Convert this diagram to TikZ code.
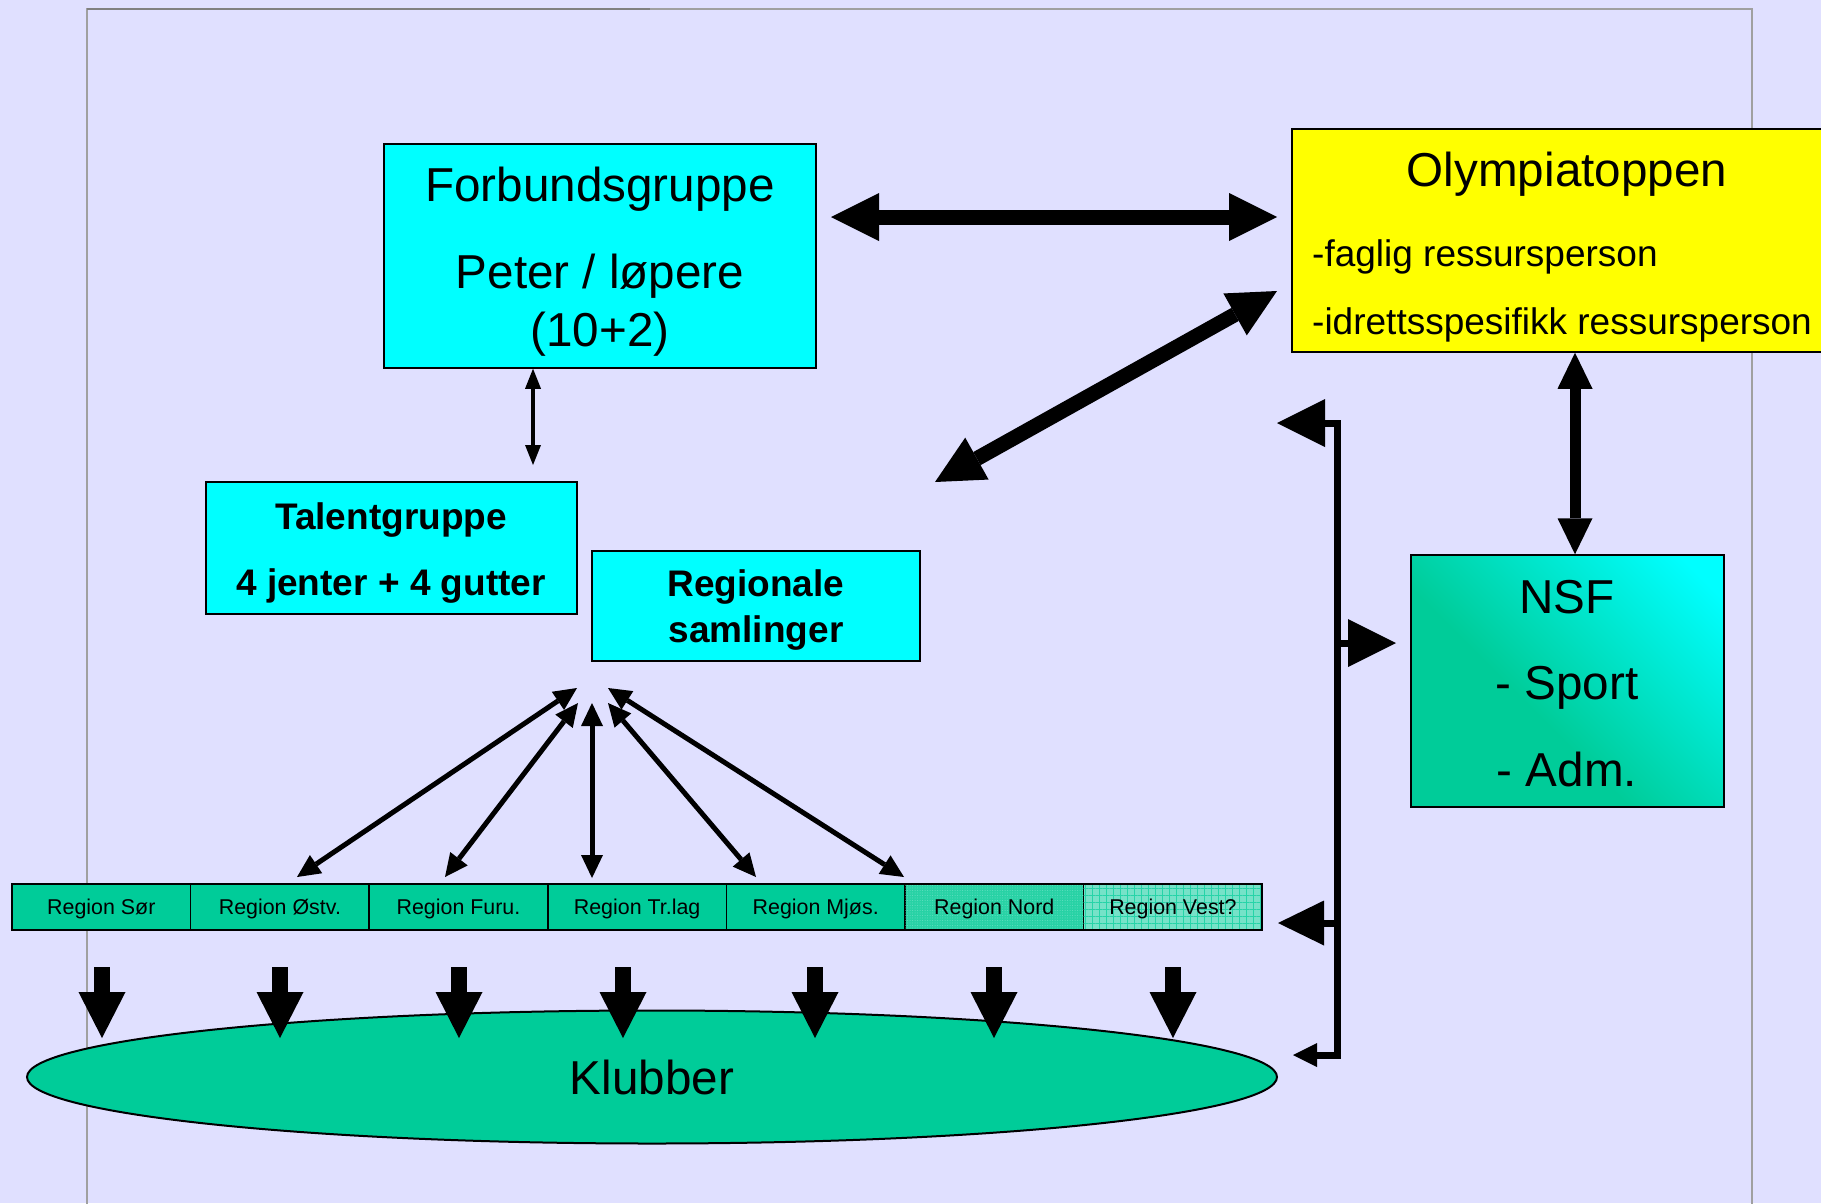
\documentclass[tikz,border=0pt]{standalone}
\usepackage{fontspec}
\setmainfont{Liberation Sans}
\usetikzlibrary{arrows.meta,patterns.meta,shapes.geometric}
\definecolor{bg}{RGB}{224,224,255}
\definecolor{cyanbox}{RGB}{0,255,255}
\definecolor{yell}{RGB}{255,255,0}
\definecolor{sea}{RGB}{0,204,153}
\definecolor{nordfill}{RGB}{40,210,165}
\definecolor{vestfill}{RGB}{118,226,200}
\definecolor{framegray}{RGB}{160,160,160}
\definecolor{framedark}{RGB}{128,128,128}
\pgfdeclareverticalshading{nsfshade}{100bp}{color(0bp)=(sea); color(42bp)=(sea); color(80bp)=(cyanbox); color(100bp)=(cyanbox)}
\begin{document}
\begin{tikzpicture}[x=1pt,y=-1pt,
  box/.style={draw=black, line width=1.5pt, inner sep=0pt, rectangle},
  bigtxt/.style={font=\fontsize{47.6}{57}\selectfont, inner sep=0pt},
  medtxt/.style={font=\fontsize{37}{44}\selectfont, inner sep=0pt},
  boldtxt/.style={font=\fontsize{37}{44}\selectfont\bfseries, inner sep=0pt},
  cell/.style={draw=black, line width=1.5pt, inner sep=0pt, minimum width=178.6pt, minimum height=46pt},
  celltxt/.style={font=\fontsize{21.4}{26}\selectfont, inner sep=0pt},
  bigdbl/.style={line width=15pt, {Triangle[length=48pt,width=48pt,line width=0pt]}-{Triangle[length=48pt,width=48pt,line width=0pt]}},
  vdbl/.style={line width=11pt, {Triangle[length=36pt,width=35pt,line width=0pt]}-{Triangle[length=36pt,width=35pt,line width=0pt]}},
  thindbl/.style={line width=4.5pt, {Triangle[length=20pt,width=16pt,line width=0pt]}-{Triangle[length=20pt,width=16pt,line width=0pt]}},
  hubdbl/.style={line width=5pt, {Triangle[length=23pt,width=22pt,line width=0pt]}-{Triangle[length=23pt,width=22pt,line width=0pt]}},
  downarr/.style={line width=16pt, -{Triangle[length=46pt,width=47pt,line width=0pt]}},
  brk/.style={line width=7pt, line join=miter},
  brkhead/.style={-{Triangle[length=48pt,width=48pt,line width=0pt]}},
]
\useasboundingbox (0,0) rectangle (1821,1203);
\clip (0,0) rectangle (1821,1203);
\fill[bg] (0,0) rectangle (1821,1203);

% frame
\draw[framegray, line width=2pt] (87,1210) -- (87,9) -- (1752,9) -- (1752,1210);
\draw[framedark, line width=2pt] (87,9) -- (650,9);

% boxes
\node[box, fill=cyanbox, minimum width=432pt, minimum height=224pt] (forb) at (600,256) {};
\node[bigtxt] (forbA) at (600,189.5) {Forbundsgruppe};
\node[bigtxt] (forbB) at (600,276.5) {Peter / løpere};
\node[bigtxt] (forbC) at (600,334.5) {(10+2)};

\node[box, fill=yell, minimum width=548pt, minimum height=223pt] (olymp) at (1566,240.5) {};
\node[bigtxt] (olympA) at (1567,174.5) {Olympiatoppen};
\node[medtxt, anchor=west] (olympB) at (1312,256.5) {-faglig ressursperson};
\node[medtxt, anchor=west] (olympC) at (1312,324.5) {-idrettsspesifikk ressursperson};

\node[box, fill=cyanbox, minimum width=371pt, minimum height=132pt] (talent) at (391.5,548) {};
\node[boldtxt] (talentA) at (391,520.5) {Talentgruppe};
\node[boldtxt] (talentB) at (391,586.5) {4 jenter + 4 gutter};

\node[box, fill=cyanbox, minimum width=328pt, minimum height=110pt] (regsam) at (756,606) {};
\node[boldtxt] (regsamA) at (756,587.5) {Regionale};
\node[boldtxt] (regsamB) at (756,633) {samlinger};

\shade[shading=nsfshade, shading angle=-45] (1411,555) rectangle (1724,807);
\node[box, minimum width=313pt, minimum height=252pt] (nsf) at (1567.5,681) {};
\node[bigtxt] (nsfA) at (1567,597) {NSF};
\node[bigtxt] (nsfB) at (1567,688) {- Sport};
\node[bigtxt] (nsfC) at (1567,769) {- Adm.};

% regions
\node[cell, fill=sea] (r1) at (101.3,907) {};
\node[cell, fill=sea] (r2) at (279.9,907) {};
\node[cell, fill=sea] (r3) at (458.5,907) {};
\node[cell, fill=sea] (r4) at (637.1,907) {};
\node[cell, fill=sea] (r5) at (815.7,907) {};
\node[cell, fill=nordfill, postaction={pattern={Dots[distance=2.5pt,radius=0.5pt]}, pattern color=sea!60!white}] (r6) at (994.3,907) {};
\node[cell, fill=vestfill, postaction={pattern={Hatch[angle=0,distance=7pt,line width=0.5pt]}, pattern color=sea!85!white}] (r7) at (1172.9,907) {};
\node[celltxt] (r1t) at ([yshift=-2.3pt]r1.center) {Region Sør};
\node[celltxt] (r2t) at ([yshift=-2.3pt]r2.center) {Region Østv.};
\node[celltxt] (r3t) at ([yshift=-2.3pt]r3.center) {Region Furu.};
\node[celltxt] (r4t) at ([yshift=-2.3pt]r4.center) {Region Tr.lag};
\node[celltxt] (r5t) at ([yshift=-2.3pt]r5.center) {Region Mjøs.};
\node[celltxt] (r6t) at ([yshift=-2.3pt]r6.center) {Region Nord};
\node[celltxt] (r7t) at ([yshift=-2.3pt]r7.center) {Region Vest?};
\draw[black, line width=1.5pt] (12,884) rectangle (1262,930);

% clubs
\node[ellipse, draw=black, line width=2pt, fill=sea, minimum width=1250pt, minimum height=133pt, inner sep=0pt, font=\fontsize{47.6}{57}\selectfont] (klub) at (652,1077) {Klubber};

% down arrows
\foreach \i/\x in {1/102,2/280,3/459,4/623,5/815,6/994,7/1173}{
  \coordinate (ds\i) at (\x,967);
  \coordinate (de\i) at (\x,1038);
  \draw[downarr] (ds\i) -- (de\i);
}

% big arrows
\coordinate (h1) at (831,217);
\coordinate (h2) at (1277,217);
\draw[bigdbl] (h1) -- (h2);
\coordinate (g1) at (935,482);
\coordinate (g2) at (1277,291);
\draw[bigdbl] (g1) -- (g2);
\draw[vdbl] (olymp.south -| 1575,0) -- (nsf.north -| 1575,0);
\draw[thindbl] (forb.south -| 533,0) -- (533,465);

% hub arrows
\coordinate (hA) at (577,688);
\coordinate (hB) at (578,703);
\coordinate (hC) at (592,703);
\coordinate (hD) at (608,703);
\coordinate (hE) at (608,688);
\coordinate (tA) at (297,877);
\coordinate (tB) at (445,877);
\coordinate (tC) at (592,878);
\coordinate (tD) at (756,877);
\coordinate (tE) at (904,877);
\draw[hubdbl] (hA) -- (tA);
\draw[hubdbl] (hB) -- (tB);
\draw[hubdbl] (hC) -- (tC);
\draw[hubdbl] (hD) -- (tD);
\draw[hubdbl] (hE) -- (tE);

% bracket
\coordinate (bt) at (1277,423);
\coordinate (bb) at (1293,1055);
\draw[brk, {Triangle[length=24pt,width=24pt,line width=0pt]}-{Triangle[length=48pt,width=48pt,line width=0pt]}] (bb) -- (1337,1055) -- (1337,423) -- (bt);
\draw[brk, brkhead] (1337,643) -- (1396,643);
\draw[brk, -{Triangle[length=46pt,width=45pt,line width=0pt]}] (1337,923) -- (1278,923);
\end{tikzpicture}
\end{document}
